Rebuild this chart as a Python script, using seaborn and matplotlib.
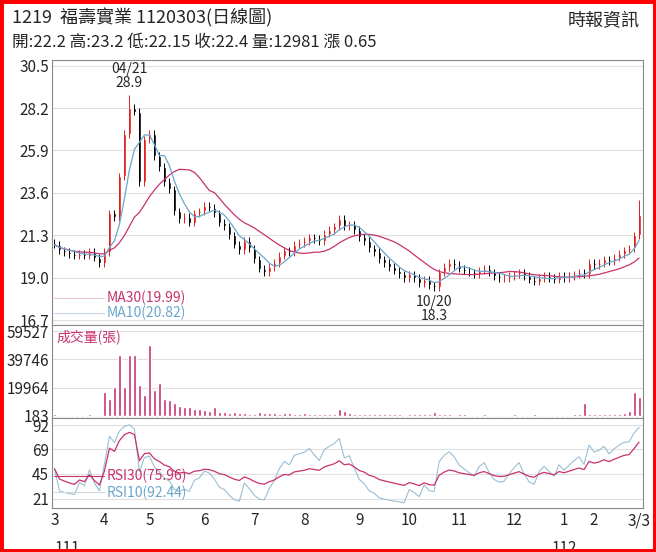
import matplotlib
matplotlib.use("Agg")
import matplotlib.pyplot as plt
import seaborn as sns
import numpy as np
import pandas as pd

# closes sampled about every two trading days, 2022-03 .. 2023-03-03
closes = [20.8, 20.5, 20.4, 20.3, 20.2, 20.3, 20.2, 20.4, 20.1, 19.8,
          20.4, 22.5, 22.3, 24.5, 26.8, 28.2, 28.0, 24.2, 26.5,
          26.8, 25.6, 25.0, 24.2, 23.8, 22.6, 22.2, 22.3, 22.0, 22.5, 22.6,
          22.9, 22.8, 22.5, 22.0, 21.8, 21.3, 20.8, 20.5, 21.0, 20.6,
          20.0, 19.5, 19.3, 19.6, 19.8, 20.2, 20.5, 20.4, 20.8, 20.9,
          21.0, 21.2, 21.1, 21.0, 21.4, 21.6, 21.8, 22.2, 21.8, 21.9, 21.6,
          21.2, 21.0, 20.6, 20.4, 20.0, 19.8, 19.6, 19.4, 19.2, 19.0,
          19.2, 19.0, 18.7, 18.9, 18.6, 18.5, 19.3, 19.6, 19.8, 19.7,
          19.5, 19.4, 19.3, 19.2, 19.4, 19.5, 19.3, 19.1, 19.0, 19.0, 19.1,
          19.2, 19.3, 19.1, 18.9, 18.8, 19.0, 19.1, 19.0, 18.9, 19.1,
          19.0, 19.1, 19.2, 19.3, 19.2, 19.8,
          19.7, 19.8, 20.0, 19.9, 20.1, 20.3, 20.5, 20.6, 21.3, 22.4]
volumes = [1500, 900, 800, 700, 900, 800, 700, 1200, 900, 800,
           17000, 12000, 20000, 43000, 20000, 43000, 43000, 22000, 15000,
           50000, 18000, 23000, 12000, 11000, 9000, 7000, 6500, 6000, 5000, 4500,
           4000, 3500, 6000, 3000, 2500, 2200, 2500, 2000, 1800, 1600,
           1500, 2500, 2000, 2200, 1800, 1500, 1700, 2000, 1600, 1500,
           1800, 1500, 1400, 1300, 1500, 1600, 1500, 4500, 3500, 2000, 1500,
           1400, 1300, 1200, 1100, 1500, 1200, 1000, 1300, 1100, 900,
           1200, 1000, 1400, 1100, 1300, 3000, 1500, 1200, 1000, 900,
           1100, 1000, 900, 800, 900, 1000, 900, 800, 900, 800, 900,
           1000, 900, 800, 900, 1200, 800, 700, 800, 900, 800,
           800, 900, 1000, 1200, 9000, 1500,
           1200, 1000, 1500, 1300, 1200, 1500, 2000, 3500, 17000, 13000]
month_pos = [0, 10, 19, 30, 40, 50, 61, 71, 81, 92, 102, 108, 117]
month_labels = ["3", "4", "5", "6", "7", "8", "9", "10", "11", "12", "1", "2", "3/3"]
price_ticks = [16.7, 19.0, 21.3, 23.6, 25.9, 28.2, 30.5]
vol_ticks = [183, 19964, 39746, 59527]
rsi_ticks = [21, 45, 69, 92]

df = pd.DataFrame({"close": closes, "volume": volumes})
df["x"] = np.arange(len(df))
df["open"] = df["close"].shift(1).fillna(df["close"].iloc[0] + 0.1)
df["high"] = df[["open", "close"]].max(axis=1) + 0.2
df["low"] = df[["open", "close"]].min(axis=1) - 0.2
df.loc[15, "high"] = 28.9
df.loc[76, "low"] = 18.3
df.loc[len(df) - 1, "high"] = 23.2
df["ma10"] = df["close"].rolling(5, min_periods=1).mean()
df["ma30"] = df["close"].rolling(15, min_periods=1).mean()


def rsi(s, n):
    d = s.diff().fillna(0)
    up = d.clip(lower=0).ewm(alpha=1 / n, adjust=False).mean() + 0.04
    dn = (-d.clip(upper=0)).ewm(alpha=1 / n, adjust=False).mean() + 0.04
    return 100 * up / (up + dn)


df["rsi10"] = rsi(df["close"], 5).clip(15, 97)
df["rsi30"] = rsi(df["close"], 15).clip(15, 97)

sns.set_style("white")
plt.rcParams["font.family"] = ["Noto Sans CJK TC", "DejaVu Sans"]

fig = plt.figure(figsize=(6.56, 5.52), dpi=100)
fig.patches.append(plt.Rectangle((0, 0), 1, 1, transform=fig.transFigure,
                                 fill=False, edgecolor="red", linewidth=5))
L, W = 52 / 656, 591 / 656
ax1 = fig.add_axes([L, 1 - 325 / 552, W, 265 / 552])
ax2 = fig.add_axes([L, 1 - 418 / 552, W, 93 / 552])
ax3 = fig.add_axes([L, 1 - 508 / 552, W, 90 / 552])

red, magenta, blue = "#e0201c", "#c8326e", "#6aa6cc"
for _, r in df.iterrows():
    up = r["close"] >= r["open"]
    col = red if up else "black"
    ax1.vlines(r["x"], r["low"], r["high"], color=col, linewidth=0.7)
    ax1.bar(r["x"], max(abs(r["close"] - r["open"]), 0.05),
            bottom=min(r["close"], r["open"]), width=0.6, color=col)
sns.lineplot(data=df, x="x", y="ma30", ax=ax1, color=magenta, linewidth=0.9)
sns.lineplot(data=df, x="x", y="ma10", ax=ax1, color=blue, linewidth=0.9)
ax1.set_ylim(16.45, 30.8)
ax1.set_yticks(price_ticks)
ax1.set_yticklabels([f"{t:.1f}" for t in price_ticks])
ax1.text(15, 29.2, "04/21\n28.9", ha="center", va="bottom", fontsize=10, linespacing=1.0)
ax1.text(76, 18.1, "10/20\n18.3", ha="center", va="top", fontsize=10, linespacing=1.0)
ax1.plot([0, 10], [17.9, 17.9], color="#e8c8d0", linewidth=0.8)
ax1.plot([0, 10], [17.1, 17.1], color="#c8d8e8", linewidth=0.8)
ax1.text(10.5, 17.9, "MA30(19.99)", color=magenta, va="center", fontsize=10)
ax1.text(10.5, 17.1, "MA10(20.82)", color=blue, va="center", fontsize=10)

ax2.bar(df["x"], df["volume"], width=0.6, color=magenta)
ax2.set_ylim(-1500, 64000)
ax2.set_yticks(vol_ticks)
ax2.set_yticklabels([str(t) for t in vol_ticks])
ax2.text(0.3, 61000, "成交量(張)", color=magenta, va="top", fontsize=10)

sns.lineplot(data=df, x="x", y="rsi10", ax=ax3, color="#9bbfd4", linewidth=0.8)
sns.lineplot(data=df, x="x", y="rsi30", ax=ax3, color=magenta, linewidth=0.9)
ax3.set_ylim(12, 99)
ax3.set_yticks(rsi_ticks)
ax3.plot([0, 10], [43, 43], color=magenta, linewidth=0.8)
ax3.plot([0, 10], [27, 27], color="#d0d8e0", linewidth=0.8)
ax3.text(10.5, 43, "RSI30(75.96)", color=magenta, va="center", fontsize=10)
ax3.text(10.5, 27, "RSI10(92.44)", color=blue, va="center", fontsize=10)
ax3.set_xticks(month_pos)
ax3.set_xticklabels(month_labels)
ax3.set_xticks(np.arange(len(df)), minor=True)
ax3.tick_params(axis="x", which="minor", length=2, direction="in")
ax3.tick_params(axis="x", which="major", length=4, direction="in", pad=3)
ax3.text(0, -0.5, "111", transform=ax3.get_xaxis_transform(), ha="left", fontsize=11)
ax3.text(102, -0.5, "112", transform=ax3.get_xaxis_transform(), ha="center", fontsize=11)

for ax in (ax1, ax2, ax3):
    ax.set_xlim(-0.5, len(df) - 0.2)
    ax.set_xlabel("")
    ax.set_ylabel("")
    ax.grid(axis="y", color="#e0e0e0", linewidth=0.8)
    ax.tick_params(axis="y", labelsize=11, length=0, pad=2)
    for s in ax.spines.values():
        s.set_color("#888888")
        s.set_linewidth(0.8)
ax1.set_xticks([])
ax2.set_xticks([])
ax3.tick_params(axis="x", labelsize=11)

fig.text(12 / 656, 1 - 18 / 552, "1219  福壽實業 1120303(日線圖)", fontsize=13, va="center")
fig.text(12 / 656, 1 - 42 / 552, "開:22.2 高:23.2 低:22.15 收:22.4 量:12981 漲 0.65", fontsize=12, va="center")
fig.text(640 / 656, 1 - 20 / 552, "時報資訊", fontsize=13, va="center", ha="right")

fig.savefig("out.png", dpi=100)
